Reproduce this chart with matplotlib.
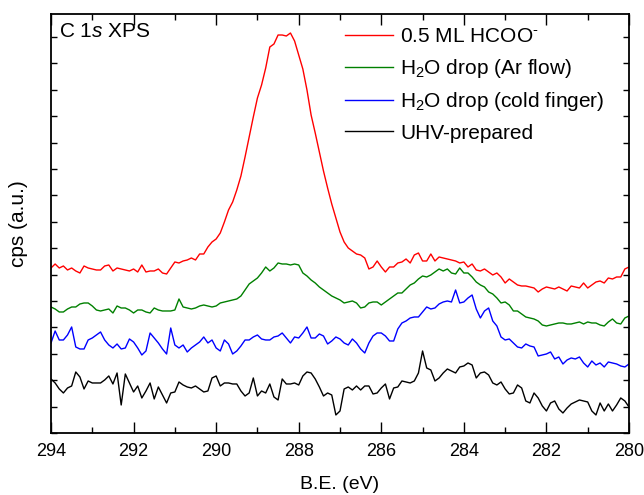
import numpy as np
import matplotlib.pyplot as plt
from matplotlib.ticker import MultipleLocator

plt.rcParams['font.family'] = ['Liberation Sans', 'DejaVu Sans']
plt.rcParams['mathtext.fontset'] = 'custom'
plt.rcParams['mathtext.rm'] = 'Liberation Sans'
plt.rcParams['mathtext.it'] = 'Liberation Sans:italic'

# binding energy, 294 -> 280 eV in 0.1 eV steps
be = np.linspace(294.0, 280.0, 141)

# C 1s counts (arb. units, curves already offset)
hcoo = [165, 169, 165, 167, 163, 165, 162, 160, 167, 165,
        164, 163, 163, 167, 168, 162, 165, 164, 163, 162,
        164, 161, 168, 161, 162, 162, 164, 160, 159, 165,
        171, 170, 172, 173, 175, 173, 179, 179, 186, 191,
        194, 200, 211, 223, 231, 243, 257, 276, 296, 316,
        335, 348, 365, 386, 389, 398, 398, 397, 400, 392,
        378, 364, 343, 318, 300, 281, 262, 245, 229, 215,
        201, 191, 185, 182, 179, 178, 175, 164, 166, 172,
        166, 161, 166, 166, 170, 171, 174, 170, 178, 180,
        172, 172, 179, 172, 176, 175, 174, 173, 172, 170,
        171, 166, 169, 163, 162, 164, 161, 158, 160, 156,
        150, 154, 151, 148, 147, 147, 146, 145, 141, 144,
        146, 145, 144, 146, 144, 142, 147, 146, 145, 150,
        145, 148, 151, 152, 150, 155, 154, 156, 156, 164,
        166]

ar_flow = [126, 124, 121, 121, 124, 126, 126, 129, 130, 130,
           127, 123, 122, 123, 124, 120, 127, 125, 125, 123,
           120, 123, 123, 121, 120, 125, 123, 122, 122, 122,
           123, 134, 126, 125, 124, 125, 127, 128, 127, 126,
           127, 130, 131, 132, 133, 134, 137, 143, 149, 152,
           155, 160, 166, 162, 165, 170, 169, 169, 168, 169,
           168, 160, 157, 153, 150, 146, 143, 140, 137, 135,
           133, 130, 131, 132, 130, 125, 126, 130, 131, 131,
           128, 131, 134, 137, 140, 140, 144, 148, 150, 154,
           157, 156, 158, 161, 164, 162, 164, 160, 159, 165,
           160, 160, 156, 151, 148, 146, 141, 139, 135, 130,
           131, 128, 122, 122, 119, 116, 115, 114, 112, 108,
           107, 108, 109, 110, 110, 109, 109, 110, 111, 109,
           111, 110, 110, 108, 107, 111, 114, 110, 109, 115,
           117]

cold_finger = [90, 102, 93, 93, 98, 106, 86, 84, 84, 93,
               95, 98, 101, 93, 88, 85, 89, 84, 85, 94,
               91, 85, 78, 82, 100, 95, 90, 84, 79, 105,
               88, 85, 88, 81, 85, 88, 91, 96, 90, 93,
               85, 82, 93, 89, 79, 82, 87, 93, 93, 96,
               98, 94, 93, 93, 96, 97, 100, 95, 90, 96,
               95, 100, 106, 95, 95, 99, 97, 89, 92, 96,
               94, 90, 88, 94, 90, 84, 80, 90, 97, 100,
               100, 97, 92, 92, 104, 110, 112, 115, 116, 116,
               121, 126, 124, 125, 129, 131, 132, 131, 143, 130,
               131, 135, 138, 124, 115, 122, 125, 112, 107, 96,
               93, 94, 90, 86, 85, 89, 87, 86, 77, 78,
               79, 81, 74, 76, 69, 73, 75, 74, 76, 70,
               66, 72, 68, 70, 66, 71, 70, 69, 67, 66,
               69]

uhv = [54, 50, 44, 40, 45, 47, 61, 56, 44, 52,
       50, 50, 50, 53, 57, 49, 60, 28, 59, 50,
       41, 47, 35, 42, 50, 34, 46, 38, 30, 40,
       41, 51, 48, 46, 45, 47, 44, 41, 42, 55,
       57, 47, 50, 50, 49, 49, 42, 37, 40, 55,
       37, 42, 40, 49, 36, 33, 54, 49, 49, 50,
       48, 57, 61, 60, 54, 46, 37, 40, 38, 18,
       22, 44, 46, 43, 47, 43, 47, 47, 39, 40,
       45, 49, 34, 45, 46, 52, 51, 50, 52, 60,
       82, 65, 63, 52, 55, 60, 64, 62, 60, 66,
       67, 70, 68, 55, 60, 61, 58, 50, 48, 51,
       44, 39, 40, 48, 45, 32, 30, 40, 35, 27,
       22, 30, 32, 24, 20, 25, 29, 31, 33, 32,
       31, 22, 18, 30, 22, 29, 22, 28, 35, 32,
       26]

labels = ['0.5 ML HCOO$^{\u2010}$', 'H$_2$O drop (Ar flow)',
          'H$_2$O drop (cold finger)', 'UHV-prepared']
colors = ['#ff0000', '#008000', '#0000ff', '#000000']

fig = plt.figure(figsize=(6.44, 4.95), dpi=100)
ax = fig.add_axes([0.0792, 0.1253, 0.8975, 0.8464])

for ys, lab, c in zip([hcoo, ar_flow, cold_finger, uhv], labels, colors):
    ax.plot(be, ys, color=c, lw=1.0, label=lab)

ax.set_xlim(294, 280)
ax.set_ylim(0, 419)
ax.xaxis.set_major_locator(MultipleLocator(2))
ax.xaxis.set_minor_locator(MultipleLocator(1))
ax.yaxis.set_major_locator(MultipleLocator(26.4))
ax.set_yticklabels([])
ax.tick_params(axis='both', which='both', direction='in', top=True, right=True, width=1)
ax.tick_params(axis='x', which='major', length=8, labelsize=13, pad=7)
ax.tick_params(axis='x', which='minor', length=4)
ax.tick_params(axis='y', which='major', length=4)
for s in ax.spines.values():
    s.set_linewidth(1.3)

ax.set_xlabel('B.E. (eV)', fontsize=14, labelpad=12)
ax.set_ylabel('cps (a.u.)', fontsize=15, labelpad=13)

ax.text(0.014, 0.958, 'C $\\it{1s}$ XPS', transform=ax.transAxes,
        fontsize=15, va='center', ha='left')

ax.legend(loc='upper left', bbox_to_anchor=(0.5087, 0.968), frameon=False,
          fontsize=15, borderpad=0, borderaxespad=0, handlelength=2.3,
          handletextpad=0.34, labelspacing=0.5)

fig.savefig('out.png', dpi=100)
